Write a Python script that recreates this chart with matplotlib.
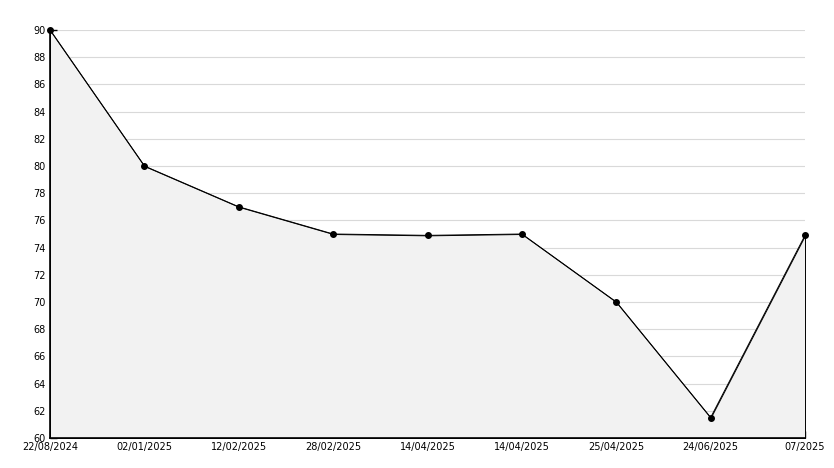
import matplotlib
matplotlib.use("Agg")
import matplotlib.pyplot as plt
from matplotlib.ticker import MultipleLocator

# data
labels = ["22/08/2024", "02/01/2025", "12/02/2025", "28/02/2025", "14/04/2025",
          "14/04/2025", "25/04/2025", "24/06/2025", "07/2025"]
values = [90, 80, 77, 75, 74.9, 75, 70, 61.5, 74.9]

fig = plt.figure(figsize=(8.34, 4.68), dpi=100)
ax = fig.add_axes([50 / 834, 1 - 438 / 468, 755 / 834, 408 / 468])

x = list(range(len(values)))
ax.fill_between(x, values, 60, facecolor="#f2f2f2", edgecolor="black", linewidth=0.7, zorder=2)
ax.plot(x, values, color="black", linewidth=0.7, marker="o", markersize=4,
        zorder=3, clip_on=False)

ax.set_xlim(0, len(values) - 1)
ax.set_ylim(60, 90)
ax.set_xticks(x)
ax.set_xticklabels(labels)
ax.yaxis.set_major_locator(MultipleLocator(2))
ax.yaxis.set_minor_locator(MultipleLocator(1))
ax.grid(axis="y", color="#d9d9d9", linewidth=0.8, zorder=1)
ax.set_axisbelow(True)

for side in ["top", "right"]:
    ax.spines[side].set_visible(False)
ax.spines["left"].set_linewidth(1.2)
ax.spines["bottom"].set_linewidth(1.2)
ax.tick_params(axis="both", direction="in", length=5, width=1, labelsize=7, pad=3)
ax.tick_params(axis="y", which="minor", direction="in", length=4, width=1)

fig.savefig("out.png", dpi=100)
